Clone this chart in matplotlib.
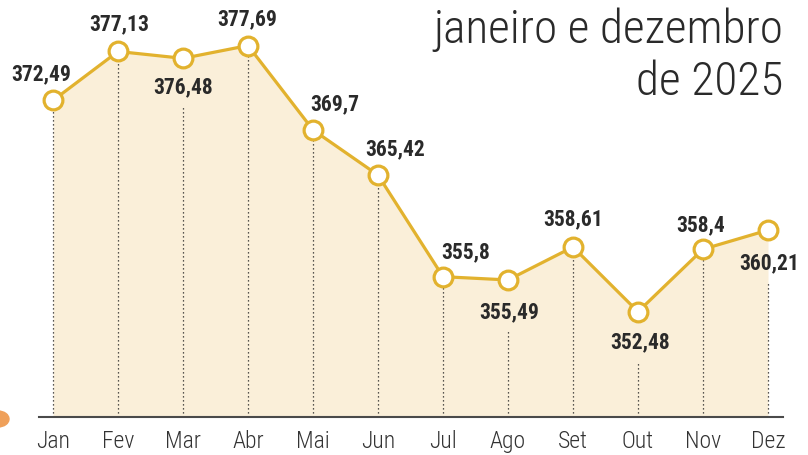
import matplotlib.pyplot as plt
from matplotlib.patches import Ellipse


months = ["Jan", "Fev", "Mar", "Abr", "Mai", "Jun", "Jul", "Ago", "Set", "Out", "Nov", "Dez"]
values = [372.49, 377.13, 376.48, 377.69, 369.7, 365.42, 355.8, 355.49, 358.61, 352.48, 358.4, 360.21]
title_lines = ["janeiro e dezembro", "de 2025"]

# label offsets from the marker, in pixels (dx, dy); negative dy = label below
label_offsets = [(-12, 27), (1, 28), (0, -28), (-1, 27), (22, 27), (17, 27),
                 (23, 25), (1, -31), (0, 29), (2, -30), (-2, 25), (1, -32)]

LINE_COLOR = "#E2B22E"
FILL_COLOR = "#FAEFD9"
TEXT_COLOR = "#2A2A2A"
FONT = ["Roboto Condensed", "IBM Plex Sans Condensed", "DejaVu Sans"]

W, H = 808, 456
Y_MIN, Y_MAX = 342.51, 382.1

fig = plt.figure(figsize=(W / 100, H / 100), dpi=100)
ax = fig.add_axes([0, 38 / H, 1, 418 / H])

x = list(range(len(months)))

ax.set_xlim(-53 / 65, (W - 53) / 65)
ax.set_ylim(Y_MIN, Y_MAX)

ax.fill_between(x, values, Y_MIN, color=FILL_COLOR, linewidth=0, zorder=1)

# pixels per data unit on y, to place dotted lines under the labels
px_per_unit = ax.transData.transform((0, 1))[1] - ax.transData.transform((0, 0))[1]

for xi, v, (dx, dy) in zip(x, values, label_offsets):
    top = v
    if dy < 0:
        top = v - (abs(dy) + 20) / px_per_unit
    ax.vlines(xi, Y_MIN, top, colors="#222222", linestyles=(0, (1, 2.2)),
              linewidth=0.9, zorder=2)

ax.plot(x, values, color=LINE_COLOR, linewidth=2.3, marker="o", markersize=13.5,
        markerfacecolor="white", markeredgecolor=LINE_COLOR, markeredgewidth=2.3,
        zorder=3, clip_on=False)

for xi, v, (dx, dy) in zip(x, values, label_offsets):
    ax.annotate(str(v).replace(".", ","), (xi, v), xytext=(dx, dy),
                textcoords="offset pixels", ha="center", va="center",
                fontsize=15.5, fontweight="bold", family=FONT, color=TEXT_COLOR,
                zorder=4)

for side in ["top", "left", "right"]:
    ax.spines[side].set_visible(False)
ax.spines["bottom"].set_bounds(-0.22, 11.23)
ax.spines["bottom"].set_color("#4A4A4A")
ax.spines["bottom"].set_linewidth(1.5)
ax.spines["bottom"].set_zorder(5)

ax.set_yticks([])
ax.set_xticks(x)
ax.set_xticklabels(months, family=FONT, fontsize=17, fontweight="light", color="#333333")
ax.tick_params(axis="x", length=0, pad=9)
ax.patch.set_visible(False)

fig.text(783 / W, 1 - 43 / H, title_lines[0], ha="right", va="baseline",
         fontsize=34, fontweight="light", family=FONT, color=TEXT_COLOR)
fig.text(783 / W, 1 - 95 / H, title_lines[1], ha="right", va="baseline",
         fontsize=34, fontweight="light", family=FONT, color=TEXT_COLOR)

fig.patches.append(Ellipse((-2 / W, 1 - 420 / H), 22 / W, 16 / H,
                           transform=fig.transFigure, color="#EFA05A", zorder=0))

plt.savefig("out.png", dpi=100)
